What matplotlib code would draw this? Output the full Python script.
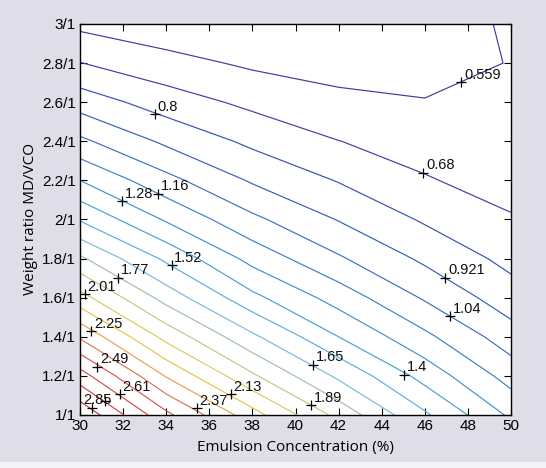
import numpy as np
import matplotlib
matplotlib.use("Agg")
import matplotlib.pyplot as plt
from matplotlib.patches import Rectangle

# ---------------- data ----------------
emulsion_conc = [30, 34, 38, 42, 46, 50]                     # x grid (%)
weight_ratio = [1.0, 1.2, 1.4, 1.6, 1.8, 2.0, 2.2, 2.4, 2.6, 2.8, 3.0]  # y grid
# response values: one row per weight ratio, one column per concentration
response = [
    [2.950, 2.520, 2.180, 1.853, 1.540, 1.258],
    [2.664, 2.241, 1.909, 1.626, 1.355, 1.111],
    [2.354, 1.971, 1.675, 1.400, 1.188, 0.974],
    [2.055, 1.724, 1.431, 1.229, 1.026, 0.855],
    [1.792, 1.495, 1.240, 1.055, 0.898, 0.764],
    [1.509, 1.266, 1.066, 0.915, 0.785, 0.691],
    [1.280, 1.077, 0.907, 0.793, 0.690, 0.630],
    [1.065, 0.898, 0.773, 0.682, 0.629, 0.600],
    [0.867, 0.740, 0.651, 0.593, 0.566, 0.575],
    [0.683, 0.600, 0.539, 0.504, 0.500, 0.565],
    [0.530, 0.480, 0.460, 0.450, 0.440, 0.590],
]
levels = [0.559, 0.68, 0.8, 0.921, 1.04, 1.16, 1.28, 1.4, 1.52, 1.65,
          1.77, 1.89, 2.01, 2.13, 2.25, 2.37, 2.49, 2.61, 2.73, 2.85]

# contour label markers ("+") and their texts
label_x = [47.69, 45.93, 33.47, 46.96, 47.17, 33.63, 31.94, 45.05, 34.25, 40.80,
           31.78, 40.72, 30.21, 37.00, 30.52, 35.41, 30.81, 31.84, 31.15, 30.54]
label_y = [2.701, 2.238, 2.538, 1.703, 1.506, 2.132, 2.094, 1.206, 1.767, 1.258,
           1.702, 1.050, 1.617, 1.105, 1.429, 1.035, 1.247, 1.105, 1.074, 1.036]
label_text = ["0.559", "0.68", "0.8", "0.921", "1.04", "1.16", "1.28", "1.4", "1.52", "1.65",
              "1.77", "1.89", "2.01", "2.13", "2.25", "2.37", "2.49", "2.61", "", "2.85"]

xticks = [30, 32, 34, 36, 38, 40, 42, 44, 46, 48, 50]
yticks = [1.0, 1.2, 1.4, 1.6, 1.8, 2.0, 2.2, 2.4, 2.6, 2.8, 3.0]
ytick_labels = ["1/1", "1.2/1", "1.4/1", "1.6/1", "1.8/1", "2/1",
                "2.2/1", "2.4/1", "2.6/1", "2.8/1", "3/1"]

x_label = "Emulsion Concentration (%)"
y_label = "Weight ratio MD/VCO"

# line colours as they appear in the (printed/scanned) jet-like colormap
line_colors = ["#3c3c9e", "#3a40a8", "#3850b2", "#355eba", "#3870c2", "#3a82ca",
               "#3e92d0", "#48a0d6", "#5aaedb", "#7cbad6", "#a2bfae", "#c2c888",
               "#d8cc5c", "#e2c64a", "#e4a44a", "#e07454", "#dc5654", "#d84a50",
               "#d4424c", "#cc3a48"]

# ---------------- figure ----------------
narrow = ["Liberation Sans Narrow", "Liberation Sans", "DejaVu Sans"]
humanist = ["Open Sans", "DejaVu Sans"]

fig = plt.figure(figsize=(5.46, 4.68), dpi=100, facecolor="#dedde8")
fig.patches.append(Rectangle((0, 0), 1, 0.012, transform=fig.transFigure,
                             facecolor="#f4f4f8", edgecolor="none", zorder=0))
ax = fig.add_axes([80 / 546, 1 - 415 / 468, 431 / 546, 391 / 468])
ax.set_facecolor("white")

X, Y = np.meshgrid(emulsion_conc, weight_ratio)
Z = np.array(response)
cs = ax.contour(X, Y, Z, levels=levels, colors=line_colors, linewidths=0.85)

ax.plot(label_x, label_y, linestyle="none", marker="+", color="black",
        markersize=7, markeredgewidth=0.9, zorder=5)
for lx, ly, lt in zip(label_x, label_y, label_text):
    if not lt:
        continue
    off = (-6, 3) if lt == "2.85" else (2, 2.5)
    ax.annotate(lt, (lx, ly), xytext=off, textcoords="offset points",
                ha="left", va="baseline", fontsize=10.5, family=narrow,
                color="#111111", zorder=6)

ax.set_xlim(30, 50)
ax.set_ylim(1, 3)
ax.set_xticks(xticks)
ax.set_xticklabels([str(t) for t in xticks], family=narrow, fontsize=11)
ax.set_yticks(yticks)
ax.set_yticklabels(ytick_labels, family=narrow, fontsize=11)
ax.tick_params(direction="in", top=True, right=True, length=5, width=0.8,
               colors="black", pad=3)
for s in ax.spines.values():
    s.set_linewidth(1.0)
    s.set_color("black")

ax.set_xlabel(x_label, family=humanist, fontsize=11, labelpad=5)
ax.set_ylabel(y_label, family=humanist, fontsize=11, labelpad=3)

fig.savefig("out.png", dpi=100, facecolor=fig.get_facecolor())
